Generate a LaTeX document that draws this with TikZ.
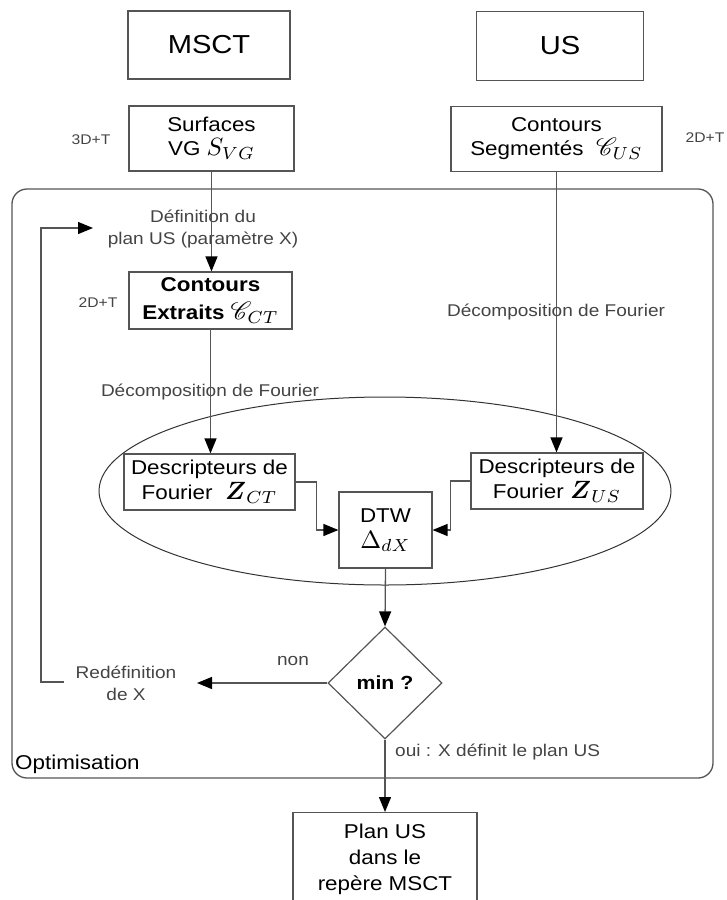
\RequirePackage{fix-cm}
\documentclass[tikz,border=0pt]{standalone}
\usepackage{amsmath}
\usepackage{mathrsfs}
\usepackage{graphicx}
\usepackage[no-math]{fontspec}
\setmainfont{Liberation Sans}[FakeStretch=1.12]
\usetikzlibrary{arrows.meta,shapes.geometric}
\newcommand{\fz}[2]{\fontsize{#1}{#2}\selectfont}
\newcommand{\mth}[1]{\scalebox{2.5}{\normalsize$#1$}}
\definecolor{linec}{HTML}{555555}
\definecolor{boxc}{HTML}{555555}
\definecolor{labc}{HTML}{444444}
\tikzset{
  box/.style={draw=boxc, line width=1.2pt, fill=white, align=center, inner sep=1pt, text=black},
  lab/.style={text=labc, align=center, font=\fz{17}{22}, inner sep=0pt},
  conn/.style={draw=linec, line width=1.3pt, -{Triangle[length=15pt,width=12pt,color=black]}},
}
\begin{document}
\begin{tikzpicture}[x=1pt,y=-1pt]
\useasboundingbox (0,0) rectangle (726,900);
% optimisation frame
\draw[draw=boxc, line width=1.3pt, rounded corners=15pt] (12,189) rectangle (713,778);
\node[anchor=west, inner sep=0pt, font=\fz{20}{24}] (optim) at (15,764) {Optimisation};
% ellipse
\draw[draw=black!80, line width=1pt] (385,491) ellipse [x radius=286, y radius=94];
% top boxes
\node[box, minimum width=162pt, minimum height=68pt, font=\fz{26}{30}] (msct) at (209,45) {MSCT};
\node[box, minimum width=167pt, minimum height=69pt, font=\fz{26}{30}] (us) at (560,46) {US};
\node[box, minimum width=165pt, minimum height=65pt, font=\fz{20}{24}] (surf) at (211.5,138.5) {Surfaces\\VG \mth{S_{VG}}};
\node[box, minimum width=211pt, minimum height=65pt, font=\fz{20}{24}] (cseg) at (556.5,139) {Contours\\Segmentés~ \mth{\mathscr{C}_{US}}};
\node[lab, font=\fz{14}{16}] (dimA) at (91,140) {3D+T};
\node[lab, font=\fz{14}{16}] (dimB) at (705,138) {2D+T};
% contours extraits
\node[box, minimum width=163pt, minimum height=57pt, font=\bfseries\fz{20}{28}] (cext) at (210.5,300.5) {Contours\\Extraits \mth{\mathscr{C}_{CT}}};
\node[lab, font=\fz{14}{16}] (dimC) at (98,303) {2D+T};
\node[lab] (defin) at (203,229) {Définition du\\plan US (paramètre X)};
\node[lab] (decL) at (210,392) {Décomposition de Fourier};
\node[lab] (decR) at (556,312) {Décomposition de Fourier};
% descriptors and DTW
\node[box, minimum width=171pt, minimum height=56pt, font=\fz{20}{25}] (descL) at (209.5,482) {Descripteurs de\\Fourier~ \mth{\boldsymbol{Z}_{CT}}};
\node[box, minimum width=172pt, minimum height=56pt, font=\fz{20}{25}] (descR) at (557,481) {Descripteurs de\\Fourier \mth{\boldsymbol{Z}_{US}}};
\node[box, minimum width=93pt, minimum height=76pt, font=\fz{20}{26}] (dtw) at (385.5,530) {DTW\\\mth{\Delta_{dX}}};
% decision
\node[box, shape=diamond, aspect=1, minimum width=114pt, minimum height=112pt, inner sep=0pt, font=\bfseries\fz{19}{22}] (dia) at (385,683) {min ?};
\node[lab] (redef) at (126,683) {Redéfinition\\de X};
\node[lab] (non) at (293,661) {non};
\node[lab, anchor=west] (oui) at (395,752) {oui : X définit le plan US};
% result
\node[box, anchor=north, minimum width=184pt, minimum height=94pt, font=\fz{20}{26}] (plan) at (385,812) {Plan US\\dans le\\repère MSCT};
% coordinates
\coordinate (redefTip) at (197,683);
\coordinate (loopA) at (64,682);
\coordinate (loopB) at (93,228);
% connectors
\draw[conn] (surf.south) -- (surf.south |- cext.north);
\draw[conn] (cext.south) -- (cext.south |- descL.north);
\draw[conn] (cseg.south) -- (cseg.south |- descR.north);
\draw[conn] (descL.east) -- ++(21,0) |- (dtw.west);
\draw[conn] (descR.west) -- ++(-20,0) |- (dtw.east);
\draw[conn] (dtw.south) -- (dia.north);
\draw[conn] (dia.west) -- (redefTip);
\draw[conn] (loopA) -- ++(-23,0) |- (loopB);
\draw[conn] (dia.south) -- (plan.north);
\end{tikzpicture}
\end{document}
